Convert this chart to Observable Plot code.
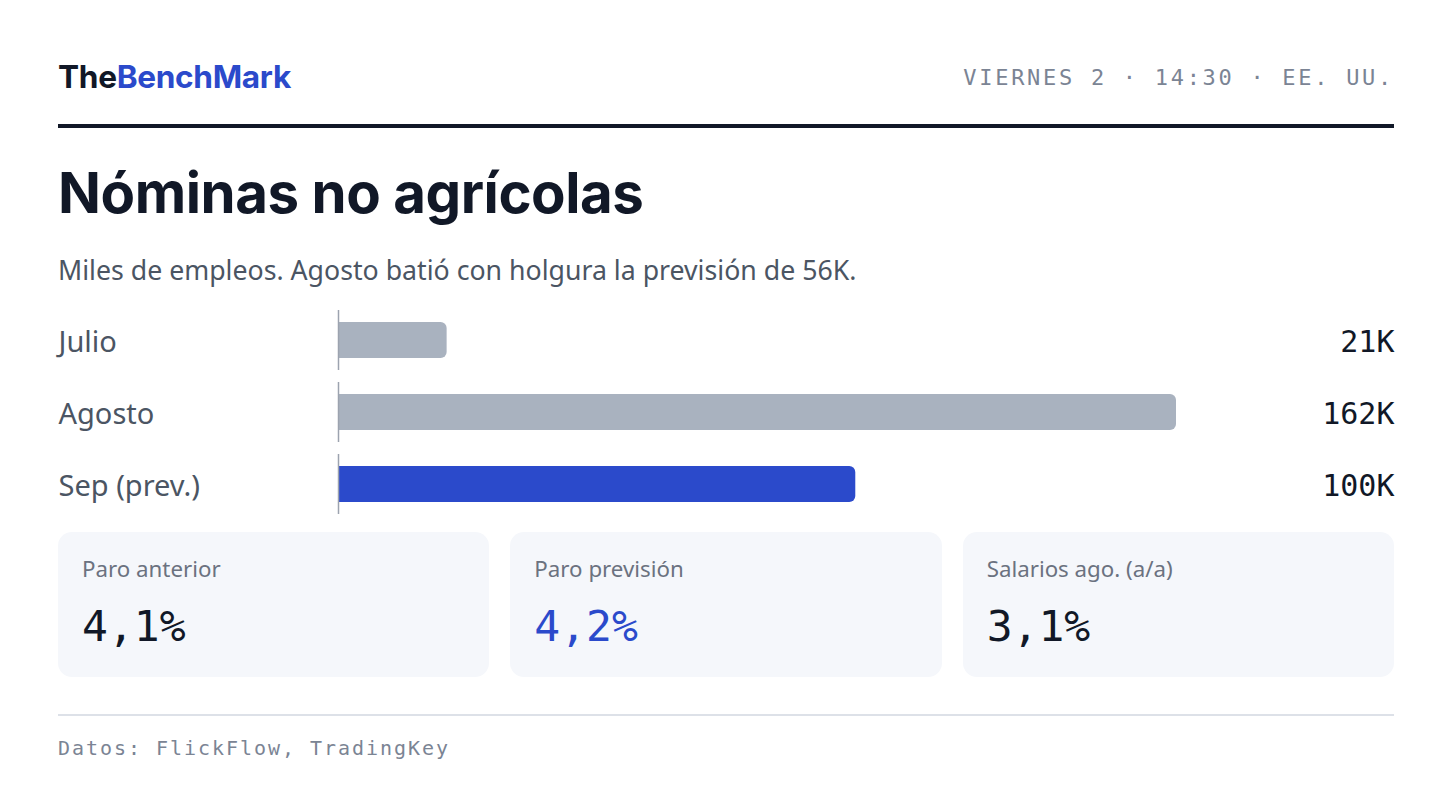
<!DOCTYPE html>
<html>
<head>
<meta charset="utf-8">
<script src="https://cdn.jsdelivr.net/npm/d3@7"></script>
<script src="https://cdn.jsdelivr.net/npm/@observablehq/plot@0.6"></script>
<style>
  html, body { margin: 0; padding: 0; background: #ffffff; }
  body { width: 1452px; height: 806px; position: relative; overflow: hidden; font-family: "Noto Sans", sans-serif; }
  .abs { position: absolute; left: 58px; width: 1336px; }
  #logo { top: 57px; height: 40px; line-height: 40px; font-family: Inter, sans-serif; font-weight: 700; font-size: 31.6px; letter-spacing: -0.01em; color: #111827; }
  #logo span { color: #2b4acb; }
  #date { top: 58px; height: 40px; line-height: 40px; text-align: right; font-family: "DejaVu Sans Mono", monospace; font-size: 22px; letter-spacing: 0.123em; color: #7b8494; margin-right: -2px; }
  #rule { top: 124px; height: 4px; background: #111827; }
  #title { top: 158px; height: 70px; line-height: 70px; font-family: Inter, sans-serif; font-weight: 700; font-size: 56.4px; letter-spacing: -0.008em; color: #111827; }
  #subtitle { top: 252px; height: 36px; line-height: 36px; font-size: 26.7px; color: #4b5563; }
  #chart { top: 310px; height: 204px; }
  #cards { top: 532px; height: 145px; display: flex; gap: 21px; }
  .card { flex: 1; background: #f5f7fb; border-radius: 14px; position: relative; }
  .card .lab { position: absolute; left: 24px; top: 23px; font-size: 22.3px; line-height: 28px; color: #6b7280; }
  .card .val { position: absolute; left: 24px; top: 68px; font-family: "DejaVu Sans Mono", monospace; font-size: 43px; line-height: 52px; color: #111827; }
  #footline { top: 714px; height: 2px; background: #dde1e8; }
  #foot { top: 734px; height: 28px; line-height: 28px; font-family: "DejaVu Sans Mono", monospace; font-size: 20px; letter-spacing: 0.098em; color: #7b8494; }
</style>
</head>
<body>
<div class="abs" id="logo">The<span>BenchMark</span></div>
<div class="abs" id="date"></div>
<div class="abs" id="rule"></div>
<div class="abs" id="title"></div>
<div class="abs" id="subtitle"></div>
<div class="abs" id="chart"></div>
<div class="abs" id="cards"></div>
<div class="abs" id="footline"></div>
<div class="abs" id="foot"></div>
<script>
const headerDate = "VIERNES 2 · 14:30 · EE. UU.";
const titleText = "Nóminas no agrícolas";
const subtitleText = "Miles de empleos. Agosto batió con holgura la previsión de 56K.";
const footerText = "Datos: FlickFlow, TradingKey";

const months = ["Julio", "Agosto", "Sep (prev.)"];
const payrolls = [21, 162, 100];
const isForecast = [false, false, true];
const valueLabels = ["21K", "162K", "100K"];

const cardLabels = ["Paro anterior", "Paro previsión", "Salarios ago. (a/a)"];
const cardValues = ["4,1%", "4,2%", "3,1%"];
const cardHighlight = [false, true, false];

document.getElementById("date").textContent = headerDate;
document.getElementById("title").textContent = titleText;
document.getElementById("subtitle").textContent = subtitleText;
document.getElementById("foot").textContent = footerText;

const cards = document.getElementById("cards");
cardLabels.forEach((l, i) => {
  const c = document.createElement("div");
  c.className = "card";
  const a = document.createElement("div"); a.className = "lab"; a.textContent = l;
  const b = document.createElement("div"); b.className = "val"; b.textContent = cardValues[i];
  if (cardHighlight[i]) b.style.color = "#2b4acb";
  c.appendChild(a); c.appendChild(b); cards.appendChild(c);
});

const data = months.map((m, i) => ({month: m, value: payrolls[i], forecast: isForecast[i], label: valueLabels[i]}));

const W = 1336, ML = 280, MR = 218;
const chart = Plot.plot({
  width: W,
  height: 204,
  marginLeft: ML,
  marginRight: MR,
  marginTop: 0,
  marginBottom: 0,
  x: {domain: [0, d3.max(payrolls)], axis: null},
  y: {domain: months, paddingInner: 1/6, paddingOuter: 0, axis: null},
  style: {background: "transparent", overflow: "visible"},
  marks: [
    Plot.barX(data, {
      y: "month", x: "value",
      fill: d => d.forecast ? "#2b4acb" : "#a9b2bf",
      insetTop: 12, insetBottom: 12, insetLeft: -10,
      rx: 6, clip: "frame"
    }),
    Plot.tickX(data, {x: () => 0, y: "month", stroke: "#9ca3af", strokeWidth: 1.5}),
    Plot.text(data, {
      y: "month", text: "month", frameAnchor: "left", textAnchor: "start", dx: -ML, dy: 2,
      fontSize: 29, fill: "#4b5563", fontFamily: "Noto Sans"
    }),
    Plot.text(data, {
      y: "month", text: "label", frameAnchor: "right", textAnchor: "end", dx: MR, dy: 2,
      fontSize: 30, fill: "#111827", fontFamily: "DejaVu Sans Mono"
    })
  ]
});
document.getElementById("chart").appendChild(chart);
</script>
</body>
</html>
